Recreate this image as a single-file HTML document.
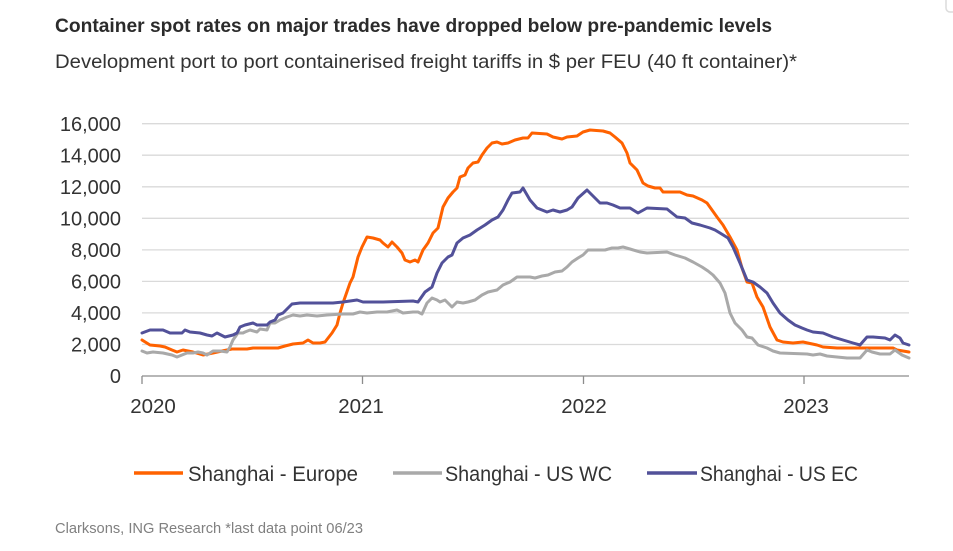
<!DOCTYPE html>
<html>
<head>
<meta charset="utf-8">
<style>
  html, body { margin:0; padding:0; background:#ffffff; }
  body { width:953px; height:551px; overflow:hidden; position:relative; }
  svg { position:absolute; left:0; top:0; }
  text { font-family: "Liberation Sans", sans-serif; }
</style>
</head>
<body>
<svg width="953" height="551" viewBox="0 0 953 551" xmlns="http://www.w3.org/2000/svg">
  <rect x="0" y="0" width="953" height="551" fill="#ffffff"/>
  <rect x="946" y="-6" width="14" height="18" rx="4" fill="none" stroke="#dcdcdc" stroke-width="1.5"/>

  <!-- Title -->
  <text x="55" y="32" font-size="19" font-weight="bold" fill="#2b2b2b" textLength="717" lengthAdjust="spacingAndGlyphs">Container spot rates on major trades have dropped below pre-pandemic levels</text>
  <text x="55" y="68" font-size="19.5" fill="#333333" textLength="742" lengthAdjust="spacingAndGlyphs">Development port to port containerised freight tariffs in $ per FEU (40 ft container)*</text>

  <!-- Gridlines -->
  <g stroke="#dadada" stroke-width="1.3">
    <line x1="142" y1="123.7" x2="909" y2="123.7"/>
    <line x1="142" y1="155.2" x2="909" y2="155.2"/>
    <line x1="142" y1="186.8" x2="909" y2="186.8"/>
    <line x1="142" y1="218.3" x2="909" y2="218.3"/>
    <line x1="142" y1="249.9" x2="909" y2="249.9"/>
    <line x1="142" y1="281.4" x2="909" y2="281.4"/>
    <line x1="142" y1="312.9" x2="909" y2="312.9"/>
    <line x1="142" y1="344.5" x2="909" y2="344.5"/>
  </g>
  <!-- Axis -->
  <g stroke="#8c8c8c" stroke-width="1.3">
    <line x1="142" y1="376" x2="909" y2="376"/>
    <line x1="142" y1="376" x2="142" y2="384"/>
    <line x1="362.5" y1="376" x2="362.5" y2="384"/>
    <line x1="583.5" y1="376" x2="583.5" y2="384"/>
    <line x1="804" y1="376" x2="804" y2="384"/>
  </g>

  <!-- Y labels -->
  <g font-size="20" fill="#333333" text-anchor="end">
    <text x="121" y="131">16,000</text>
    <text x="121" y="162.5">14,000</text>
    <text x="121" y="194">12,000</text>
    <text x="121" y="225.5">10,000</text>
    <text x="121" y="257">8,000</text>
    <text x="121" y="288.5">6,000</text>
    <text x="121" y="320">4,000</text>
    <text x="121" y="351.5">2,000</text>
    <text x="121" y="383">0</text>
  </g>

  <!-- X labels -->
  <g font-size="20.5" fill="#333333" text-anchor="middle">
    <text x="153" y="413">2020</text>
    <text x="361" y="413">2021</text>
    <text x="584" y="413">2022</text>
    <text x="806" y="413">2023</text>
  </g>

  <!-- Series -->
  <g fill="none" stroke-width="3" stroke-linejoin="round" stroke-linecap="round">
    <polyline stroke="#FF6200" points="142,340 150,345 160,346 165,347 172,350 177,352 183,350 193,352 203,355 213,353 222,351 232,349 247,349 253,348 278,348 285,346 293,344 303,343 308,340 313,343 320,343 325,342 332,333 337,325 340,313 343,303 350,283 353,277 358,257 362,247 367,237 373,238 380,240 383,243 388,247 392,242 397,247 402,253 405,260 410,262 415,260 418,262 423,250 428,243 433,233 438,228 443,207 448,198 453,192 457,188 460,177 465,175 468,168 473,163 478,162 482,155 487,148 492,143 497,142 502,144 508,143 515,140 523,138 528,138 532,133 547,134 553,137 562,139 567,137 577,136 583,132 590,130 603,131 610,133 615,137 622,143 627,153 630,163 637,170 643,183 648,186 655,188 660,188 663,192 680,192 687,195 693,196 702,200 707,203 712,210 717,217 723,225 730,237 737,250 742,268 747,282 752,283 757,297 763,307 770,327 777,340 783,342 793,343 803,342 817,345 823,347 837,348 893,348 897,350 909,352"/>
    <polyline stroke="#A9A9A9" points="142,351 147,353 153,352 163,353 172,355 177,357 182,355 187,353 193,353 198,352 203,353 207,355 213,351 220,351 227,352 230,347 233,340 238,333 243,333 245,332 250,330 257,332 260,329 267,330 270,323 275,323 280,320 287,317 293,315 300,316 307,315 317,316 327,315 343,314 353,314 360,312 367,313 377,312 387,312 397,310 403,313 413,312 418,312 422,314 427,303 432,298 437,300 440,302 445,300 452,307 457,302 463,303 468,302 475,300 482,295 488,292 497,290 503,285 510,282 517,277 530,277 535,278 542,276 548,275 555,272 562,271 567,267 572,262 578,258 583,255 588,250 605,250 612,248 618,248 623,247 630,249 640,252 647,253 667,252 675,255 685,258 693,262 702,267 708,271 713,275 720,283 725,293 730,313 735,323 742,330 747,337 752,338 758,345 767,348 773,351 780,353 807,354 813,355 820,354 827,356 837,357 847,358 860,358 867,350 872,352 880,354 890,354 895,350 902,355 909,358"/>
    <polyline stroke="#525199" points="142,333 150,330 163,330 170,333 182,333 185,330 190,332 200,333 207,335 212,336 217,333 225,337 233,335 237,333 240,327 245,325 253,323 257,325 267,325 270,322 275,320 278,315 283,313 288,308 292,304 300,303 333,303 343,302 357,300 363,302 383,302 413,301 418,302 425,292 432,287 437,273 442,263 448,257 452,255 457,243 463,238 470,235 477,230 485,225 492,220 498,217 503,210 508,200 512,193 520,192 523,188 530,200 537,208 547,212 553,210 560,212 567,210 572,207 578,198 587,190 592,195 600,203 607,203 613,205 620,208 630,208 638,213 647,208 667,209 677,217 685,218 692,223 700,225 710,228 715,230 720,233 728,238 733,247 740,263 747,280 753,282 760,287 767,293 773,303 780,313 788,320 795,325 802,328 807,330 813,332 823,333 833,337 843,340 853,343 860,345 867,337 873,337 885,338 890,340 895,335 900,338 903,343 909,345"/>
  </g>

  <!-- Legend -->
  <g stroke-width="3.5">
    <line x1="134" y1="473" x2="183" y2="473" stroke="#FF6200"/>
    <line x1="393" y1="473" x2="442" y2="473" stroke="#A9A9A9"/>
    <line x1="647" y1="473" x2="697" y2="473" stroke="#525199"/>
  </g>
  <g font-size="21" fill="#333333">
    <text x="188" y="481" textLength="170" lengthAdjust="spacingAndGlyphs">Shanghai - Europe</text>
    <text x="445" y="481" textLength="167" lengthAdjust="spacingAndGlyphs">Shanghai - US WC</text>
    <text x="700" y="481" textLength="158" lengthAdjust="spacingAndGlyphs">Shanghai - US EC</text>
  </g>

  <!-- Footer -->
  <text x="55" y="533" font-size="15" fill="#808080" textLength="308" lengthAdjust="spacingAndGlyphs">Clarksons, ING Research *last data point 06/23</text>
</svg>
</body>
</html>
